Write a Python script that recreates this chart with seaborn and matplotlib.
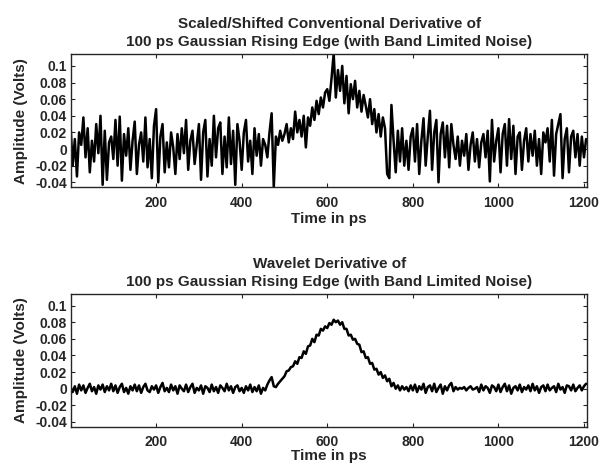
import numpy as np
import pandas as pd
import matplotlib
matplotlib.use("Agg")
import matplotlib.pyplot as plt
import seaborn as sns

SAMPLE_STEP = 5

# conventional derivative (noisy), millivolts, one row = 100 ps
conventional_mv = [
    28, -20, 12, -33, 20, 5, 38, -10, 25, -28, 10, -15, 30, -5, 40, -43, 22, -37, 8, 15,
    -12, 35, -20, 39, -38, 18, -8, 25, -25, 10, 33, -30, 5, 20, -15, 38, -22, 12, -35, 28,
    48, -40, 15, 30, -28, 8, -22, 20, 2, -30, 18, -12, 25, -5, 35, -25, 10, 22, -18, 5,
    30, -37, 20, 35, -33, 12, -20, 40, -10, 25, 32, -30, 15, -22, 38, -18, 22, -43, 30, 10,
    -25, 20, 35, -15, 10, -30, 25, -8, 18, -20, 12, 5, -10, 20, 43, -46, 15, 5, 22, 10,
    18, 30, 8, 25, 12, 45, 20, 35, 15, 40, 2, 38, 28, 50, 35, 58, 42, 62, 50, 68,
    72, 58, 85, 115, 62, 95, 70, 100, 55, 88, 43, 78, 60, 82, 50, 70, 45, 65, 52, 38,
    60, 30, 48, 20, 42, 15, 38, 25, -30, -35, 53, 10, -28, 22, -15, 25, -20, 10, -25, 15,
    25, -15, 30, -30, 10, 37, -20, 15, 46, -25, 20, 35, -40, 18, 32, -10, 28, -22, 30, 5,
    -12, 15, -20, 10, -8, 18, -25, 5, 20, -15, 12, -22, 8, 18, -10, 22, -39, 35, -15, 10,
    25, -28, 18, 30, -20, 36, -12, 28, -30, 15, 20, -25, 10, 25, -15, 18, -8, 22, -20, 12,
    -30, 20, 8, 25, -15, 35, -32, 18, 30, 42, -35, 12, 25, -28, 15, 22, -10, 18, -20, 15,
    -10, 12,
]

# wavelet derivative (smooth), millivolts, one row = 100 ps
wavelet_mv = [
    2, -4, 3, -6, 5, -2, 4, -5, 1, 6, -3, 2, -6, 4, -1, 5, -4, 3, -2, 6,
    -3, 4, -5, 2, 6, -4, 1, -6, 3, -2, 5, -3, 4, -5, 2, 6, -2, -4, 3, -1,
    4, -5, 2, 7, -3, 1, -4, 5, -2, 3, -6, 4, 0, -3, 5, -4, 2, 6, -5, 1,
    -2, 4, -6, 3, 1, -4, 5, -3, 2, -5, 4, 1, -3, 6, -2, 3, -5, 2, 4, -3,
    1, -5, 3, -2, 5, -4, 2, -3, 4, -6, 1, -2, 5, 10, 14, 3, 2, 6, 9, 12,
    15, 21, 22, 26, 27, 33, 30, 38, 37, 45, 42, 51, 52, 60, 56, 65, 64, 72, 70, 75,
    73, 79, 77, 83, 80, 82, 77, 80, 72, 72, 64, 65, 59, 60, 54, 53, 44, 45, 37, 38,
    30, 31, 23, 24, 17, 20, 13, 16, 9, 12, 3, 7, 0, 4, -2, 3, -1, 2, -3, 4,
    -2, 5, -4, 3, -1, 6, -5, 2, 4, -3, 6, -4, 1, 5, -6, 3, -2, 4, 7, -3,
    2, -1, 1, 0, 2, -2, 1, 3, -1, 0, 2, -4, 5, -2, 3, 1, -5, 4, 2, -3,
    5, -4, 2, 6, -3, 4, -6, 1, 3, -2, 5, -4, 2, -1, 4, -3, 6, -2, 3, -5,
    2, 4, -3, 5, -2, 1, 3, -4, 6, -1, 2, -5, 4, 3, -2, 5, -3, 1, 4, -2,
    3, 6,
]

titles = [
    "Scaled/Shifted Conventional Derivative of\n100 ps Gaussian Rising Edge (with Band Limited Noise)",
    "Wavelet Derivative of\n100 ps Gaussian Rising Edge (with Band Limited Noise)",
]
x_ticks = [200, 400, 600, 800, 1000, 1200]
x_tick_labels = ["200", "400", "600", "800", "1000", "1200"]
y_ticks = [-0.04, -0.02, 0, 0.02, 0.04, 0.06, 0.08, 0.1]
y_tick_labels = ["-0.04", "-0.02", "0", "0.02", "0.04", "0.06", "0.08", "0.1"]

sns.set_style("ticks")
plt.rcParams.update({
    "font.family": ["Liberation Sans", "DejaVu Sans"],
    "font.weight": "bold",
    "font.size": 10,
    "xtick.direction": "in",
    "ytick.direction": "in",
    "xtick.top": True,
    "ytick.right": True,
    "axes.linewidth": 1.0,
})

frames = []
for name, vals in [("conv", conventional_mv), ("wave", wavelet_mv)]:
    t = np.arange(len(vals)) * SAMPLE_STEP
    frames.append(pd.DataFrame({"t": t, "v": np.array(vals) / 1000.0, "trace": name}))
df = pd.concat(frames, ignore_index=True)

fig = plt.figure(figsize=(6.04, 4.63), dpi=100)
ax1 = fig.add_axes([0.1175, 0.5955, 0.855, 0.2873])
ax2 = fig.add_axes([0.1175, 0.0778, 0.855, 0.2873])

for ax, name, title in [(ax1, "conv", titles[0]), (ax2, "wave", titles[1])]:
    sns.lineplot(data=df[df["trace"] == name], x="t", y="v", ax=ax,
                 color="black", linewidth=1.8, estimator=None)
    ax.set_xlim(1, 1208)
    ax.set_ylim(-0.046, 0.114)
    ax.set_xticks(x_ticks)
    ax.set_xticklabels(x_tick_labels, fontweight="bold")
    ax.set_yticks(y_ticks)
    ax.set_yticklabels(y_tick_labels, fontweight="bold")
    ax.tick_params(axis="x", length=3, width=0.8, pad=6, labelsize=10)
    ax.tick_params(axis="y", length=3, width=0.8, pad=3, labelsize=10)
    ax.set_title(title, fontsize=11, fontweight="bold", pad=6, linespacing=1.35)
    ax.set_ylabel("Amplitude (Volts)", fontsize=11, fontweight="bold", labelpad=5)
    for s in ax.spines.values():
        s.set_visible(True)

ax1.set_xlabel("Time in ps", fontsize=11, fontweight="bold", labelpad=2)
# bottom label squeezed up a little so it stays inside the figure
ax2.set_xlabel("Time in ps", fontsize=11, fontweight="bold", labelpad=0)

fig.savefig("out.png", dpi=100)
